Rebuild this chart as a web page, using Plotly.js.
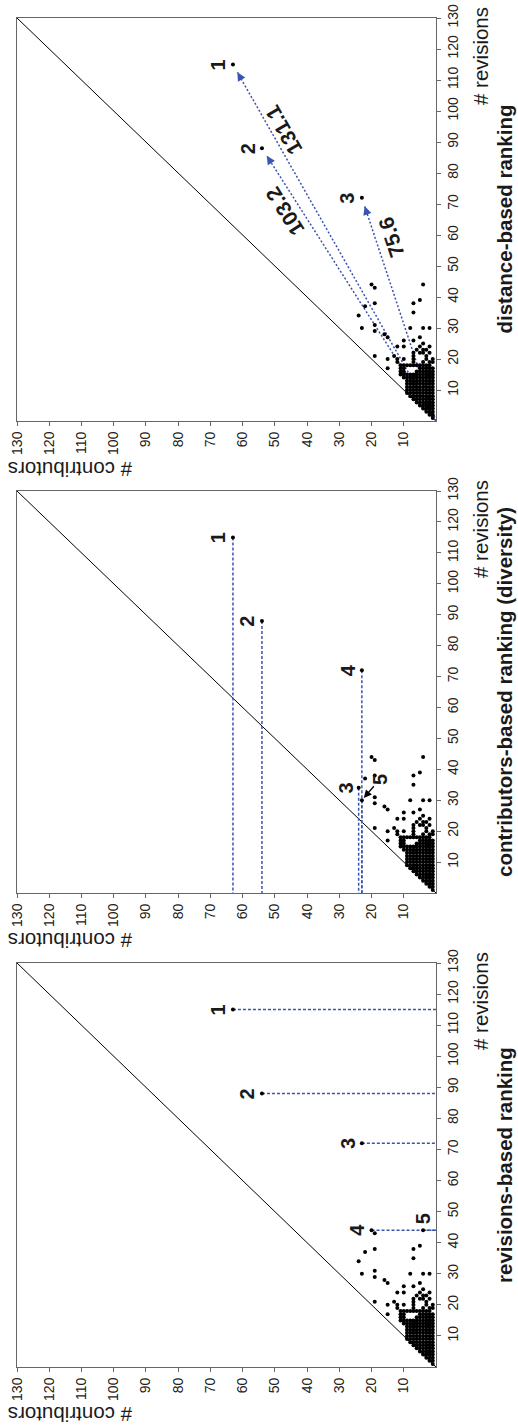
<!DOCTYPE html>
<html><head><meta charset="utf-8">
<script src="https://cdn.plot.ly/plotly-3.0.1.min.js"></script>
<style>html,body{margin:0;padding:0;background:#fff}#chart{width:518px;height:1428px}</style>
</head><body><div id="chart"></div>
<script>
// ---------- data ----------
// page revisions (one row per revision count) and the contributor counts observed at that revision count
const revisionRows = [1,2,3,4,5,6,7,8,9,10,11,12,13,14,15,16,17,18,19,20,21,22,23,24,25,26,27,28,29,30,31,34,35,37,38,39,43,44,72,88,115];
const contributorRows = [
  [1],[1,2],[1,2,3],[1,2,3,4],[1,2,3,4,5],[1,2,3,4,5,6],[1,2,3,4,5,6,7],[1,2,3,4,5,6,7,8],
  [1,2,3,4,5,6,7,8,9],[1,2,3,4,5,6,7,8,9],[1,2,3,4,5,6,7,8,9],[1,2,3,4,5,6,7,8,9],[1,2,3,4,5,6,7,8,9],
  [1,2,3,4,5,6,7,8,9,10],[1,2,3,4,5,6,7,8,9,10,11],[1,2,3,4,5,6,10,11],[1,2,3,4,5,10,11,15],
  [2,3,4,5,6,7,8,9,10,11],[1,2,4,7,12],[1,3,7,10,12,15],[3,7,13,19],[2,4,5,7],[3,4,6],[2,5,10,12],
  [4],[7,10],[5,15],[16],[19],[2,4,8,23],[19],[24],[7],[22],[7,19],[5],[19],[4,20],[23],[54],[63]
];
// ranked items per panel
const revRankContributors = [63, 54, 23, 20, 4];
const revRankRevisions    = [115, 88, 72, 44, 44];
const revRankLabels       = ['1','2','3','4','5'];
const contRankContributors = [63, 54, 24, 23, 23];
const contRankRevisions    = [115, 88, 34, 72, 30];
const contRankLabels       = ['1','2','3','4','5'];
const distRankContributors = [63, 54, 23];
const distRankRevisions    = [115, 88, 72];
const distRankLabels       = ['1','2','3'];
const distanceLabels       = ['131.1','103.2','75.6'];
const diagonal = [0, 130];
const tickValues = [10,20,30,40,50,60,70,80,90,100,110,120,130];
const tickLabels = ['10','20','30','40','50','60','70','80','90','100','110','120','130'];
const panelTitles = ['revisions-based ranking','contributors-based ranking (diversity)','distance-based ranking'];
const xTitle = '# contributors';
const yTitle = '# revisions';

// ---------- styling / geometry ----------
const W = 518, H = 1428;
const margin = {l:17, r:82, t:18, b:61, pad:0};
const plotW = W - margin.l - margin.r;
const plotH = H - margin.t - margin.b;
const frames = [[963,1367],[491,893],[18,421]];
const dom = frames.map(([t,b]) => [(H - margin.b - b)/plotH, (H - margin.b - t)/plotH]);
const FONT = 'Liberation Sans, Arial, Helvetica, sans-serif';
const BLUE = '#3a53b0';
const AX = '#666';

const dotC = [], dotR = [];
revisionRows.forEach((r,i) => contributorRows[i].forEach(c => { dotC.push(c); dotR.push(r); }));

const traces = [];
const annotations = [];
const layout = {
  width: W, height: H, margin, showlegend:false,
  paper_bgcolor:'#fff', plot_bgcolor:'#fff',
  font:{family:FONT, color:'#1a1a1a'},
  annotations
};

function sfx(p){ return p === 0 ? '' : String(p+1); }

for (let p = 0; p < 3; p++) {
  const s = sfx(p), xa = 'x'+s, ya = 'y'+s;
  layout['xaxis'+s] = {
    anchor: ya, domain:[0,1], range:[130,0], tickvals:tickValues, ticktext:tickLabels,
    tickangle:-90, ticks:'outside', ticklen:4, tickcolor:AX, tickwidth:1,
    showline:true, linecolor:AX, linewidth:1, mirror:true, showgrid:false, zeroline:false,
    tickfont:{size:14, color:'#222', family:FONT}, fixedrange:true
  };
  layout['yaxis'+s] = {
    anchor: xa, domain: dom[p], side:'right', range:[0,130], tickvals:tickValues, ticktext:tickLabels,
    tickangle:-90, ticks:'outside', ticklen:4, tickcolor:AX, tickwidth:1,
    showline:true, linecolor:AX, linewidth:1, mirror:true, showgrid:false, zeroline:false,
    tickfont:{size:14, color:'#222', family:FONT}, fixedrange:true
  };
  // diagonal
  traces.push({type:'scatter', mode:'lines', x:diagonal, y:diagonal, xaxis:xa, yaxis:ya,
    line:{color:'#000', width:1}, hoverinfo:'skip'});

  // axis titles and panel titles
  annotations.push({xref:xa+' domain', yref:ya+' domain', x:0, y:0, xshift:53, yshift:-48,
    text:xTitle, showarrow:false, textangle:180, xanchor:'center', yanchor:'middle',
    font:{size:20.5, family:FONT, color:'#1a1a1a'}});
  annotations.push({xref:xa+' domain', yref:ya+' domain', x:1, y:1, xshift:44, yshift:-38,
    text:yTitle, showarrow:false, textangle:-90, xanchor:'center', yanchor:'middle',
    font:{size:20.5, family:FONT, color:'#1a1a1a'}});
  annotations.push({xref:xa+' domain', yref:ya+' domain', x:1, y:0.5, xshift:68,
    text:'<b>'+panelTitles[p]+'</b>', showarrow:false, textangle:-90, xanchor:'center', yanchor:'middle',
    font:{size:20.5, family:FONT, color:'#1a1a1a'}});
}

// panel 1: revisions-based, drop lines to the revisions axis
{
  const x = [], y = [];
  revRankContributors.forEach((c,i) => { x.push(c, 0, null); y.push(revRankRevisions[i], revRankRevisions[i], null); });
  traces.push({type:'scatter', mode:'lines', x, y, xaxis:'x', yaxis:'y', line:{color:BLUE, width:1.5, dash:'3px,2px'}, hoverinfo:'skip'});
  const xs = [-15,-15,-14,-14,0], ys = [0,0,0,0,11];
  revRankLabels.forEach((t,i) => annotations.push({xref:'x', yref:'y', x:revRankContributors[i], y:revRankRevisions[i],
    xshift:xs[i], yshift:ys[i], text:'<b>'+t+'</b>', showarrow:false, textangle:-90, xanchor:'center', yanchor:'middle',
    font:{size:20, family:FONT, color:'#1a1a1a'}}));
}
// panel 2: contributors-based, drop lines to the contributors axis
{
  const x = [], y = [];
  contRankContributors.forEach((c,i) => { x.push(c, c, null); y.push(contRankRevisions[i], 0, null); });
  traces.push({type:'scatter', mode:'lines', x, y, xaxis:'x2', yaxis:'y2', line:{color:BLUE, width:1.5, dash:'3px,2px'}, hoverinfo:'skip'});
  const xs = [-15,-15,-13,-14];
  contRankLabels.forEach((t,i) => {
    if (i < 4) {
      annotations.push({xref:'x2', yref:'y2', x:contRankContributors[i], y:contRankRevisions[i],
        xshift:xs[i], text:'<b>'+t+'</b>', showarrow:false, textangle:-90, xanchor:'center', yanchor:'middle',
        font:{size:20, family:FONT, color:'#1a1a1a'}});
    } else {
      annotations.push({xref:'x2', yref:'y2', x:contRankContributors[i], y:contRankRevisions[i],
        ax:18, ay:-21, axref:'pixel', ayref:'pixel', text:'<b>'+t+'</b>', showarrow:true, textangle:-90,
        arrowhead:2, arrowsize:1.2, arrowwidth:1.3, arrowcolor:'#000', standoff:3,
        font:{size:20, family:FONT, color:'#1a1a1a'}});
    }
  });
}
// panel 3: distance-based, dotted arrows from the origin
{
  const pxC = plotW/130, pxR = (frames[2][1]-frames[2][0])/130;
  const x = [], y = [];
  const dxs = [10,-12,14.5], dys = [6,-8,5];
  const lxs = [-15,-14,-15];
  distRankContributors.forEach((c,i) => {
    const r = distRankRevisions[i];
    const len = Math.hypot(c*pxC, r*pxR);
    const f = 1 - 9/len;
    x.push(0, c*f, null); y.push(0, r*f, null);
    const ang = -(180 - Math.atan2(r*pxR, c*pxC)*180/Math.PI);
    annotations.push({xref:'x3', yref:'y3', x:c, y:r, ax:(c*pxC/len)*19, ay:(r*pxR/len)*19,
      axref:'pixel', ayref:'pixel', text:'', showarrow:true, arrowhead:2, arrowsize:1.3, arrowwidth:1.3,
      arrowcolor:BLUE, standoff:9});
    annotations.push({xref:'x3', yref:'y3', x:c*0.8, y:r*0.8, xshift:dxs[i], yshift:dys[i],
      text:'<b>'+distanceLabels[i]+'</b>', showarrow:false, textangle:ang, xanchor:'center', yanchor:'middle',
      font:{size:21, family:FONT, color:'#1a1a1a'}});
    annotations.push({xref:'x3', yref:'y3', x:c, y:r, xshift:lxs[i], text:'<b>'+distRankLabels[i]+'</b>',
      showarrow:false, textangle:-90, xanchor:'center', yanchor:'middle', font:{size:20, family:FONT, color:'#1a1a1a'}});
  });
  traces.push({type:'scatter', mode:'lines', x, y, xaxis:'x3', yaxis:'y3', line:{color:BLUE, width:1.5, dash:'2px,2px'}, hoverinfo:'skip'});
}
// dots on every panel (on top)
for (let p = 0; p < 3; p++) {
  const s = sfx(p);
  traces.push({type:'scatter', mode:'markers', x:dotC, y:dotR, xaxis:'x'+s, yaxis:'y'+s,
    marker:{size:4, color:'#000'}, cliponaxis:false, hoverinfo:'skip'});
}

Plotly.newPlot('chart', traces, layout, {displayModeBar:false, staticPlot:true});
</script></body></html>
